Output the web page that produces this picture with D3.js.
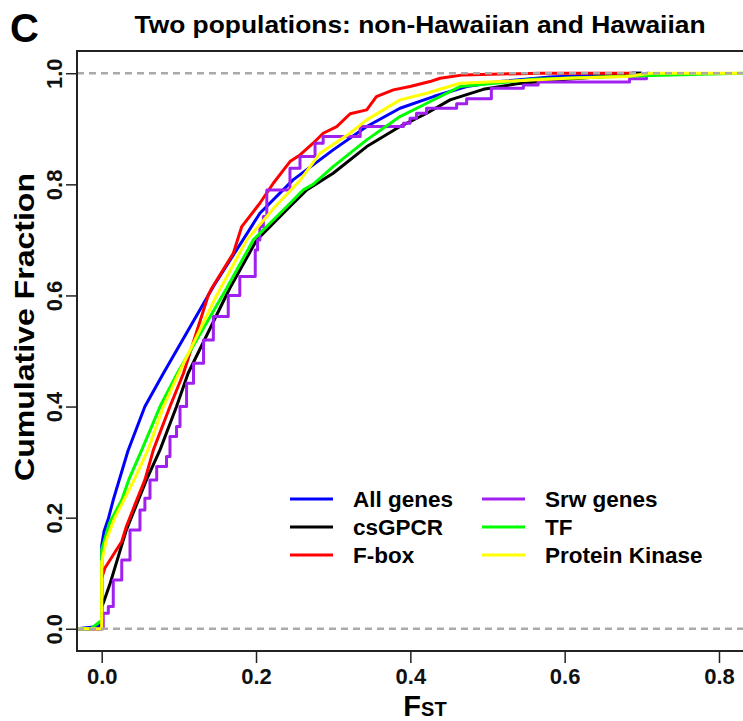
<!DOCTYPE html>
<html>
<head>
<meta charset="utf-8">
<script src="https://cdn.jsdelivr.net/npm/d3@7"></script>
<style>
  body { margin: 0; background: #fff; }
  text { font-family: "Liberation Sans", Arial, sans-serif; font-weight: bold; }
</style>
</head>
<body>
<script>
const width  = 743
const height = 721

// series: FST value and cumulative fraction
const seriesNames  = ["All genes", "csGPCR", "F-box", "Srw genes", "TF", "Protein Kinase"]
const seriesColors = ["#0000ff", "#000000", "#ff0000", "#a020f0", "#00ff00", "#ffff00"]

const allGenesFst = [-0.032, -0.004, 0, 0, 0.003, 0.009, 0.015, 0.034, 0.056, 0.08, 0.1447, 0.205, 0.248, 0.300, 0.3435, 0.3866, 0.43, 0.473, 0.516, 0.581, 0.646, 0.689, 0.70]
const allGenesCum = [0, 0.004, 0.01, 0.15, 0.175, 0.2, 0.232, 0.32, 0.4, 0.46, 0.616, 0.748, 0.808, 0.862, 0.904, 0.937, 0.958, 0.976, 0.985, 0.993, 0.997, 1, 1]

const csgpcrFst = [-0.032, 0, 0, 0.002, 0.011, 0.032, 0.058, 0.0756, 0.097, 0.112, 0.166, 0.201, 0.244, 0.2657, 0.300, 0.3435, 0.3866, 0.4213, 0.4515, 0.4946, 0.538, 0.6027, 0.676, 0.689, 0.70]
const csgpcrCum = [0, 0, 0.04, 0.046, 0.082, 0.178, 0.268, 0.322, 0.4, 0.46, 0.613, 0.70, 0.76, 0.79, 0.82, 0.868, 0.904, 0.928, 0.952, 0.971, 0.981, 0.989, 0.997, 1, 1]

const fboxFst = [-0.032, 0, 0, 0.004, 0.026, 0.032, 0.043, 0.056, 0.067, 0.0885, 0.106, 0.138, 0.1426, 0.1706, 0.1815, 0.205, 0.2224, 0.244, 0.257, 0.274, 0.287, 0.3046, 0.322, 0.3435, 0.356, 0.378, 0.3996, 0.4255, 0.4385, 0.4687, 0.568, 0.69]
const fboxCum = [0, 0, 0.091, 0.109, 0.157, 0.184, 0.223, 0.268, 0.322, 0.4, 0.46, 0.6, 0.613, 0.676, 0.724, 0.766, 0.802, 0.841, 0.853, 0.874, 0.892, 0.904, 0.927, 0.934, 0.958, 0.970, 0.976, 0.985, 0.991, 0.997, 1, 1]

const srwFst = [-0.032, 0.002, 0.0086, 0.015, 0.026, 0.0367, 0.0496, 0.056, 0.0626, 0.0713, 0.084, 0.0885, 0.097, 0.1015, 0.110, 0.119, 0.132, 0.1447, 0.164, 0.179, 0.199, 0.202, 0.205, 0.2095, 0.214, 0.244, 0.257, 0.2765, 0.287, 0.335, 0.391, 0.3996, 0.408, 0.421, 0.46, 0.473, 0.505, 0.5465, 0.5655, 0.684, 0.706, 0.71]
const srwCum = [0, 0.028, 0.04, 0.088, 0.124, 0.178, 0.214, 0.235, 0.268, 0.292, 0.31, 0.346, 0.364, 0.4, 0.442, 0.478, 0.52, 0.562, 0.6, 0.634, 0.682, 0.70, 0.724, 0.742, 0.79, 0.829, 0.85, 0.874, 0.886, 0.904, 0.91, 0.919, 0.928, 0.937, 0.945, 0.954, 0.973, 0.979, 0.984, 0.99, 1, 1]

const tfFst = [-0.032, -0.014, -0.002, 0, 0, 0.01, 0.026, 0.035, 0.052, 0.0756, 0.098, 0.162, 0.1965, 0.24, 0.2613, 0.274, 0.300, 0.3435, 0.3866, 0.4213, 0.4644, 0.516, 0.559, 0.646, 0.689, 0.776, 0.831, 0.87]
const tfCum = [0, 0, 0.013, 0.013, 0.142, 0.19, 0.232, 0.268, 0.322, 0.4, 0.46, 0.613, 0.70, 0.76, 0.79, 0.8, 0.832, 0.88, 0.922, 0.946, 0.976, 0.983, 0.989, 0.993, 0.995, 0.998, 1, 1]

const kinaseFst = [-0.032, 0, 0, 0.006, 0.017, 0.03, 0.042, 0.06, 0.08, 0.1, 0.149, 0.181, 0.188, 0.225, 0.257, 0.283, 0.3218, 0.3435, 0.3866, 0.4213, 0.4644, 0.516, 0.6027, 0.68, 0.711, 0.83]
const kinaseCum = [0, 0, 0.12, 0.16, 0.2, 0.235, 0.268, 0.322, 0.4, 0.46, 0.6, 0.682, 0.70, 0.76, 0.807, 0.856, 0.892, 0.916, 0.952, 0.964, 0.982, 0.985, 0.991, 0.994, 1, 1]

const seriesFst = [allGenesFst, csgpcrFst, fboxFst, srwFst, tfFst, kinaseFst]
const seriesCum = [allGenesCum, csgpcrCum, fboxCum, srwCum, tfCum, kinaseCum]
const stepped   = [false, false, false, true, false, false]

const xTicks = [0, 0.2, 0.4, 0.6, 0.8]
const yTicks = [0, 0.2, 0.4, 0.6, 0.8, 1.0]

const series = seriesNames.map((name, i) => ({
  name: name,
  color: seriesColors[i],
  step: stepped[i],
  values: seriesFst[i].map((f, j) => [f, seriesCum[i][j]])
}))

const margin = {left: 77, top: 51, right: 773, bottom: 651}

const x = d3.scaleLinear().domain([-0.032, 0.87]).range([margin.left, margin.right])
const y = d3.scaleLinear().domain([-0.04, 1.04]).range([margin.bottom, margin.top])

const svg = d3.select("body").append("svg")
  .attr("width", width)
  .attr("height", height)
  .attr("viewBox", [0, 0, width, height])

svg.append("clipPath").attr("id", "plotclip")
  .append("rect")
  .attr("x", margin.left).attr("y", margin.top)
  .attr("width", margin.right - margin.left).attr("height", margin.bottom - margin.top)

//draw curves
const line = d3.line().x(d => x(d[0])).y(d => y(d[1]))
svg.append("g")
  .attr("clip-path", "url(#plotclip)")
  .attr("fill", "none")
  .attr("stroke-width", 3)
  .attr("stroke-linejoin", "round")
.selectAll("path")
.data(series)
.join("path")
  .attr("stroke", d => d.color)
  .attr("d", d => line.curve(d.step ? d3.curveStepAfter : d3.curveLinear)(d.values))

//reference lines at 0 and 1
svg.append("g")
.selectAll("line")
.data([0, 1])
.join("line")
  .attr("x1", margin.left).attr("x2", margin.right)
  .attr("y1", d => y(d)).attr("y2", d => y(d))
  .attr("stroke", "#aaaaaa")
  .attr("stroke-width", 2.5)
  .attr("stroke-dasharray", "7,5")

//box
svg.append("rect")
  .attr("x", margin.left).attr("y", margin.top)
  .attr("width", margin.right - margin.left).attr("height", margin.bottom - margin.top)
  .attr("fill", "none")
  .attr("stroke", "#222")
  .attr("stroke-width", 2)

//axes
svg.append("g")
  .attr("transform", `translate(${margin.left},0)`)
  .call(d3.axisLeft(y).tickValues(yTicks).tickSize(11).tickFormat(d3.format(".1f")))
  .call(g => g.select(".domain").remove())
  .call(g => g.selectAll("line").attr("stroke", "#222").attr("stroke-width", 1.5))
  .call(g => g.selectAll("text")
    .attr("x", null).attr("dy", null)
    .attr("transform", "translate(-15,0) rotate(-90)")
    .attr("text-anchor", "middle")
    .attr("fill", "#111")
    .style("font-size", "22px"))

svg.append("g")
  .attr("transform", `translate(0,${margin.bottom})`)
  .call(d3.axisBottom(x).tickValues(xTicks).tickSize(12).tickFormat(d3.format(".1f")))
  .call(g => g.select(".domain").remove())
  .call(g => g.selectAll("line").attr("stroke", "#222").attr("stroke-width", 1.5))
  .call(g => g.selectAll("text")
    .attr("y", 33).attr("dy", null)
    .attr("fill", "#111")
    .style("font-size", "22px"))

//titles
svg.append("text")
  .attr("x", 10).attr("y", 42)
  .style("font-size", "40px")
  .text("C")

svg.append("text")
  .attr("x", 420).attr("y", 33)
  .attr("text-anchor", "middle")
  .attr("textLength", 571)
  .attr("lengthAdjust", "spacingAndGlyphs")
  .style("font-size", "24px")
  .text("Two populations: non-Hawaiian and Hawaiian")

svg.append("text")
  .attr("transform", "translate(34,327) rotate(-90)")
  .attr("text-anchor", "middle")
  .attr("textLength", 308)
  .attr("lengthAdjust", "spacingAndGlyphs")
  .style("font-size", "27px")
  .text("Cumulative Fraction")

const xlab = svg.append("text")
  .attr("x", 425).attr("y", 716)
  .attr("text-anchor", "middle")
xlab.append("tspan").style("font-size", "29px").text("F")
xlab.append("tspan").style("font-size", "20px").text("ST")

//legend
const legend = svg.append("g")
.selectAll("g")
.data(series)
.join("g")
  .attr("transform", (d, i) => `translate(${i < 3 ? 290 : 482},${499 + (i % 3) * 28})`)
legend.append("line")
  .attr("x1", 0).attr("x2", 43)
  .attr("stroke", d => d.color)
  .attr("stroke-width", 3)
legend.append("text")
  .attr("x", 63).attr("y", 8)
  .style("font-size", "22.5px")
  .text(d => d.name)
</script>
</body>
</html>
